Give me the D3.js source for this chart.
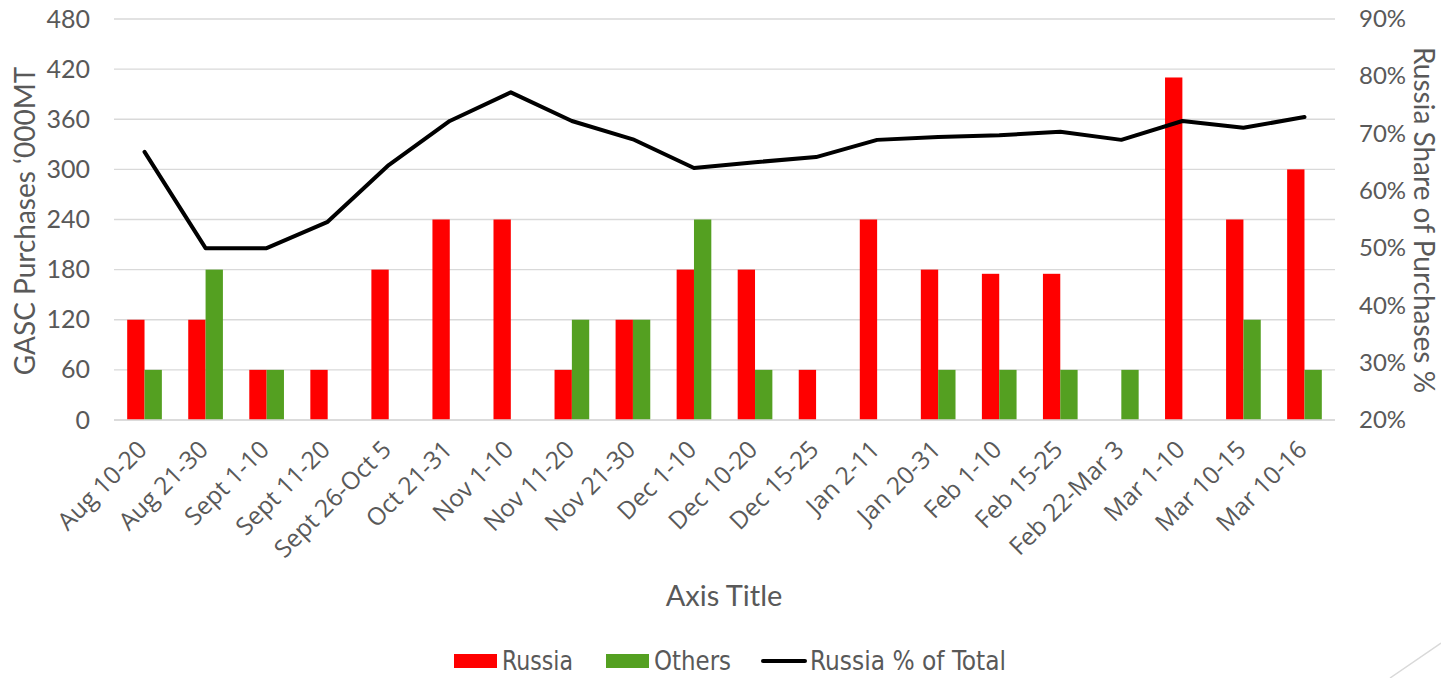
<!DOCTYPE html>
<html>
<head>
<meta charset="utf-8">
<script src="https://cdn.jsdelivr.net/npm/d3@7"></script>
<style>
  html, body { margin: 0; padding: 0; background: #fff; }
  svg text { fill: #595959; }
</style>
</head>
<body>
<svg id="chart" width="1441" height="678"></svg>
<script>
// GASC purchases chart - bars for Russia/Others, line for Russia share
const categories = ['Aug 10-20', 'Aug 21-30', 'Sept 1-10', 'Sept 11-20', 'Sept 26-Oct 5',
  'Oct 21-31', 'Nov 1-10', 'Nov 11-20', 'Nov 21-30', 'Dec 1-10', 'Dec 10-20', 'Dec 15-25',
  'Jan 2-11', 'Jan 20-31', 'Feb 1-10', 'Feb 15-25', 'Feb 22-Mar 3', 'Mar 1-10', 'Mar 10-15', 'Mar 10-16'];
const russia = [120, 120, 60, 60, 180, 240, 240, 60, 120, 180, 180, 60, 240, 180, 175, 175, 0, 410, 240, 300];
const others = [60, 180, 60, 0, 0, 0, 0, 120, 120, 240, 60, 0, 0, 60, 60, 60, 60, 0, 120, 60];
const russiaShare = [0.668, 0.50, 0.50, 0.546, 0.645, 0.722, 0.772, 0.722, 0.69, 0.64, 0.65, 0.659,
  0.689, 0.694, 0.697, 0.703, 0.689, 0.722, 0.71, 0.729];
const leftTicks = [0, 60, 120, 180, 240, 300, 360, 420, 480];
const rightTicks = [0.2, 0.3, 0.4, 0.5, 0.6, 0.7, 0.8, 0.9];

const svg = d3.select('#chart');
const plotL = 114, plotR = 1335, plotT = 19, plotB = 420;

const x = d3.scaleBand().domain(categories).range([plotL, plotR]);
const yL = d3.scaleLinear().domain([0, 480]).range([plotB, plotT]);
const yR = d3.scaleLinear().domain([0.2, 0.9]).range([plotB, plotT]);
const barW = x.bandwidth() * 0.284;

// Gridlines
svg.append('g')
  .selectAll('line')
  .data(leftTicks)
  .enter()
  .append('line')
  .attr('x1', plotL).attr('x2', plotR)
  .attr('y1', d => yL(d)).attr('y2', d => yL(d))
  .attr('stroke', '#d9d9d9')
  .attr('stroke-width', 1.3);

// Bars
const groups = svg.append('g')
  .selectAll('g')
  .data(categories)
  .enter()
  .append('g');

groups.append('rect')
  .attr('x', d => x(d) + x.bandwidth() / 2 - barW)
  .attr('width', barW)
  .attr('y', (d, i) => yL(russia[i]))
  .attr('height', (d, i) => yL(0) - yL(russia[i]))
  .attr('fill', '#ff0000');

groups.append('rect')
  .attr('x', d => x(d) + x.bandwidth() / 2)
  .attr('width', barW)
  .attr('y', (d, i) => yL(others[i]))
  .attr('height', (d, i) => yL(0) - yL(others[i]))
  .attr('fill', '#54a021');

// Axis baseline over bars
svg.append('line')
  .attr('x1', plotL).attr('x2', plotR)
  .attr('y1', plotB).attr('y2', plotB)
  .attr('stroke', '#d9d9d9')
  .attr('stroke-width', 1.3);

// Share line
const line = d3.line()
  .x((d, i) => x(categories[i]) + x.bandwidth() / 2)
  .y(d => yR(d));

svg.append('path')
  .datum(russiaShare)
  .attr('d', line)
  .attr('fill', 'none')
  .attr('stroke', '#000')
  .attr('stroke-width', 4)
  .attr('stroke-linecap', 'round')
  .attr('stroke-linejoin', 'round');

// Left axis labels
const leftAxis = d3.axisLeft(yL).tickValues(leftTicks).tickSize(0).tickPadding(24);
const gL = svg.append('g').attr('transform', `translate(${plotL},0)`).call(leftAxis);
gL.select('.domain').remove();
gL.selectAll('text')
  .attr('font-family', 'Lato, sans-serif')
  .attr('font-size', '25px')
  .style('fill', '#595959');

// Right axis labels
const rightAxis = d3.axisRight(yR).tickValues(rightTicks).tickSize(0).tickPadding(24)
  .tickFormat(d3.format('.0%'));
const gR = svg.append('g').attr('transform', `translate(${plotR},0)`).call(rightAxis);
gR.select('.domain').remove();
gR.selectAll('text')
  .attr('font-family', 'Lato, sans-serif')
  .attr('font-size', '24px')
  .style('fill', '#595959');

// Category labels
svg.append('g')
  .selectAll('text')
  .data(categories)
  .enter()
  .append('text')
  .attr('transform', d => `translate(${x(d) + x.bandwidth() / 2 + 4},${plotB + 31}) rotate(-45)`)
  .attr('text-anchor', 'end')
  .attr('font-family', '"Open Sans", sans-serif')
  .attr('font-size', '24.5px')
  .text(d => d);

// Axis titles
svg.append('text')
  .attr('x', 724)
  .attr('y', 606)
  .attr('text-anchor', 'middle')
  .attr('font-family', 'Lato, sans-serif')
  .attr('font-size', '29px')
  .text('Axis Title');

svg.append('text')
  .attr('transform', `translate(35,221) rotate(-90)`)
  .attr('text-anchor', 'middle')
  .attr('font-family', 'Lato, sans-serif')
  .attr('font-size', '28px')
  .text('GASC Purchases \u2018000MT');

svg.append('text')
  .attr('transform', `translate(1414,220) rotate(90)`)
  .attr('text-anchor', 'middle')
  .attr('font-family', 'Lato, sans-serif')
  .attr('font-size', '28px')
  .text('Russia Share of Purchases %');

// Legend
const legendFont = '"DejaVu Sans Condensed", "Liberation Sans", sans-serif';
const legend = svg.append('g').attr('transform', 'translate(0,661)');
legend.append('rect').attr('x', 454).attr('y', -7).attr('width', 43).attr('height', 14).attr('fill', '#ff0000');
legend.append('text').attr('x', 502).attr('y', 9).attr('font-family', legendFont).attr('font-size', '27px')
  .attr('textLength', 71).attr('lengthAdjust', 'spacingAndGlyphs').text('Russia');
legend.append('rect').attr('x', 606).attr('y', -7).attr('width', 43).attr('height', 14).attr('fill', '#54a021');
legend.append('text').attr('x', 654).attr('y', 9).attr('font-family', legendFont).attr('font-size', '27px')
  .attr('textLength', 77).attr('lengthAdjust', 'spacingAndGlyphs').text('Others');
legend.append('line').attr('x1', 763).attr('x2', 805).attr('y1', 0).attr('y2', 0)
  .attr('stroke', '#000').attr('stroke-width', 4).attr('stroke-linecap', 'round');
legend.append('text').attr('x', 810).attr('y', 9).attr('font-family', legendFont).attr('font-size', '27px')
  .attr('textLength', 196).attr('lengthAdjust', 'spacingAndGlyphs').text('Russia % of Total');

// Decorative corner line
svg.append('line')
  .attr('x1', 1390).attr('y1', 678).attr('x2', 1441).attr('y2', 643)
  .attr('stroke', '#d9d9d9').attr('stroke-width', 1.5);
</script>
</body>
</html>
